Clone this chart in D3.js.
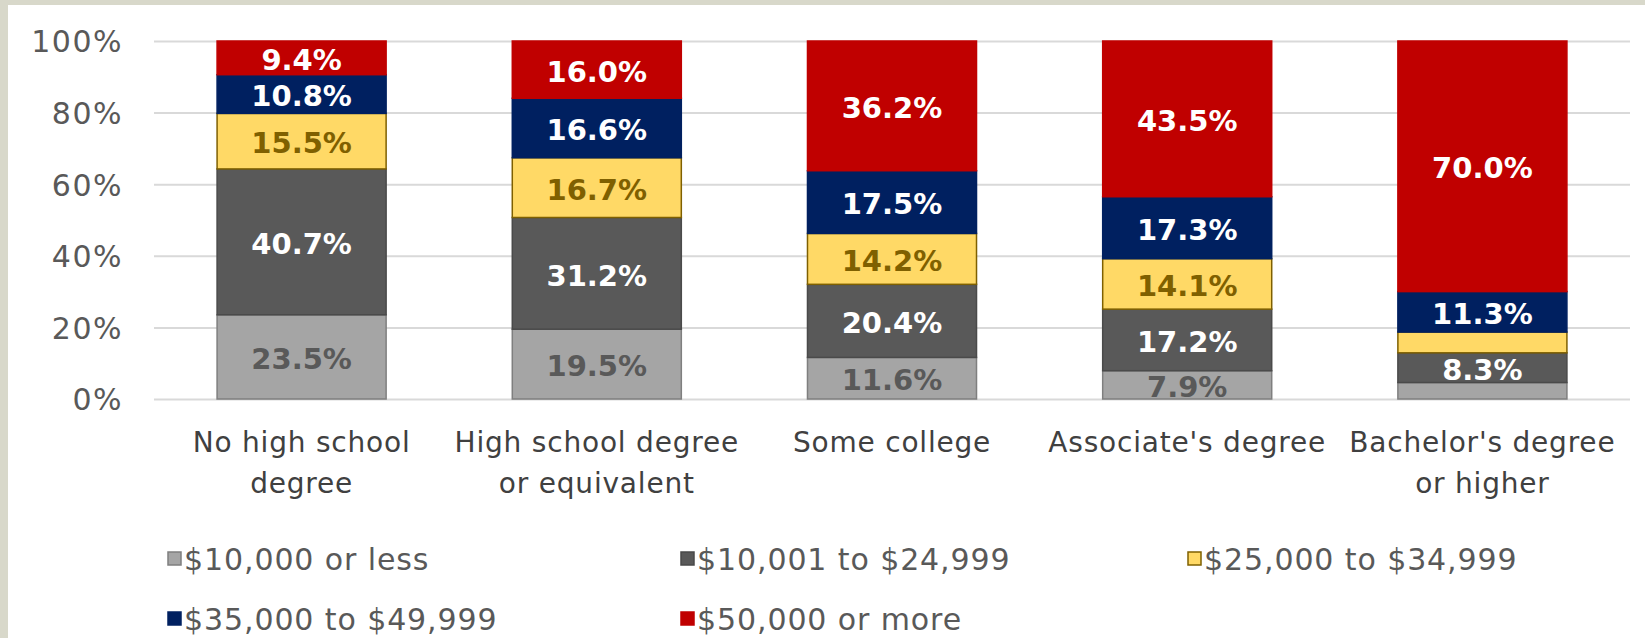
<!DOCTYPE html>
<html>
<head>
<meta charset="utf-8">
<script src="https://cdn.jsdelivr.net/npm/d3@7"></script>
<style>
  body { margin: 0; background: #ffffff; }
  text { font-family: "DejaVu Sans", sans-serif; }
</style>
</head>
<body>
<div id="chart"></div>
<script>
// categories (x axis) and one value array per income bracket
const categories = [
  ["No high school", "degree"],
  ["High school degree", "or equivalent"],
  ["Some college"],
  ["Associate's degree"],
  ["Bachelor's degree", "or higher"]
];
const seriesNames = ["$10,000 or less", "$10,001 to $24,999", "$25,000 to $34,999",
                     "$35,000 to $49,999", "$50,000 or more"];
const under10k   = [23.5, 19.5, 11.6, 7.9, 4.6];
const from10to25 = [40.7, 31.2, 20.4, 17.2, 8.3];
const from25to35 = [15.5, 16.7, 14.2, 14.1, 5.8];
const from35to50 = [10.8, 16.6, 17.5, 17.3, 11.3];
const over50k    = [9.4, 16.0, 36.2, 43.5, 70.0];
const yTicks = [0, 0.2, 0.4, 0.6, 0.8, 1.0];

const fills   = ["#a5a5a5", "#595959", "#ffd966", "#002060", "#c00000"];
const strokes = ["#7f7f7f", "#4a4a4a", "#7f6000", "#002060", "#c00000"];
const labelColors = ["#595959", "#ffffff", "#7f6000", "#ffffff", "#ffffff"];

const W = 1645, H = 638;
const margin = {top: 41, left: 154, right: 15, bottom: 239};
const plotW = W - margin.left - margin.right;
const plotH = H - margin.top - margin.bottom;

const allSeries = [under10k, from10to25, from25to35, from35to50, over50k];
const rows = categories.map((c, i) => {
  const r = {key: i};
  seriesNames.forEach((s, j) => r[s] = allSeries[j][i]);
  return r;
});

const stack = d3.stack().keys(seriesNames).offset(d3.stackOffsetExpand);
const layers = stack(rows);

const svg = d3.select("#chart").append("svg")
  .attr("width", W)
  .attr("height", H);

// slide frame
svg.append("rect").attr("width", W).attr("height", H).attr("fill", "#d8d8ca");
svg.append("rect").attr("x", 8).attr("y", 5).attr("width", W - 8).attr("height", H - 5).attr("fill", "#ffffff");

const g = svg.append("g")
  .attr("transform", "translate(" + margin.left + "," + margin.top + ")");

const x = d3.scaleBand()
  .domain(d3.range(categories.length))
  .range([0, plotW])
  .paddingInner(0.424)
  .paddingOuter(0.212);

const y = d3.scaleLinear()
  .domain([0, 1])
  .range([plotH, 0]);

// gridlines + y labels
const yAxis = g.append("g")
  .call(d3.axisLeft(y)
    .tickValues(yTicks)
    .tickSize(-plotW)
    .tickPadding(31)
    .tickFormat(d3.format(".0%")));
yAxis.select(".domain").remove();
yAxis.selectAll("line").attr("stroke", "#d9d9d9").attr("stroke-width", 2);
yAxis.selectAll("text")
  .attr("fill", "#595959")
  .style("font-size", "30px")
  .style("letter-spacing", "1.5px")
  .attr("dy", "0.36em");

// bars
const layerG = g.selectAll(".layer")
  .data(layers)
  .enter().append("g")
  .attr("class", "layer");

layerG.selectAll("rect")
  .data((d, j) => d.map(p => ({p: p, j: j})))
  .enter().append("rect")
  .attr("x", (d, i) => x(i) + 0.5)
  .attr("width", x.bandwidth() - 1)
  .attr("y", d => y(d.p[1]))
  .attr("height", d => y(d.p[0]) - y(d.p[1]))
  .attr("fill", d => fills[d.j])
  .attr("stroke", d => strokes[d.j])
  .attr("stroke-width", 1.5);

// value labels, clipped to the plot area
g.append("defs").append("clipPath")
  .attr("id", "plotclip")
  .append("rect")
  .attr("x", -10).attr("y", -10)
  .attr("width", plotW + 20).attr("height", plotH + 10);

const labelG = g.append("g").attr("clip-path", "url(#plotclip)");
layers.forEach((layer, j) => {
  layer.forEach((p, i) => {
    const v = allSeries[j][i];
    if (v < 7) return;
    labelG.append("text")
      .attr("x", x(i) + x.bandwidth() / 2)
      .attr("y", y((p[0] + p[1]) / 2))
      .attr("dy", "0.42em")
      .attr("text-anchor", "middle")
      .attr("fill", labelColors[j])
      .style("font-size", "29px")
      .style("font-weight", "bold")
      .text(v.toFixed(1) + "%");
  });
});

// category labels
const catG = g.append("g");
categories.forEach((lines, i) => {
  lines.forEach((t, k) => {
    catG.append("text")
      .attr("x", x(i) + x.bandwidth() / 2)
      .attr("y", plotH + 53 + k * 41)
      .attr("text-anchor", "middle")
      .attr("fill", "#404040")
      .style("font-size", "28px")
      .style("letter-spacing", "0.8px")
      .text(t);
  });
});

// legend
const legendPos = [[168, 559], [681, 559], [1188, 559], [168, 619], [681, 619]];
seriesNames.forEach((s, j) => {
  const lg = svg.append("g")
    .attr("transform", "translate(" + legendPos[j][0] + "," + legendPos[j][1] + ")");
  lg.append("rect")
    .attr("x", 0).attr("y", -7)
    .attr("width", 13).attr("height", 13)
    .attr("fill", fills[j])
    .attr("stroke", strokes[j])
    .attr("stroke-width", 1.5);
  lg.append("text")
    .attr("x", 16)
    .attr("y", 0)
    .attr("dy", "0.36em")
    .attr("fill", "#595959")
    .style("font-size", "30px")
    .style("letter-spacing", "0.9px")
    .text(s);
});
</script>
</body>
</html>
